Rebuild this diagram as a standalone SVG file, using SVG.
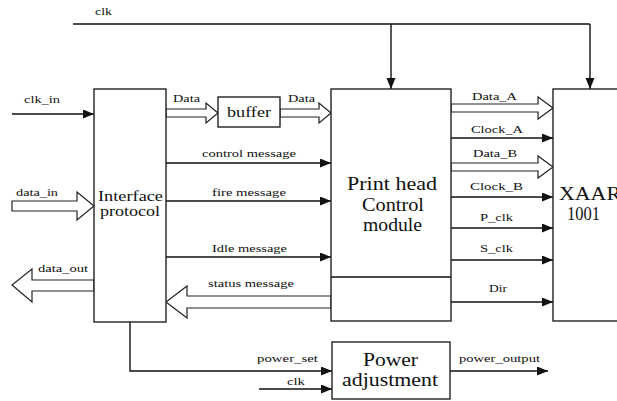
<svg xmlns="http://www.w3.org/2000/svg" width="617" height="401" viewBox="0 0 617 401">
<style>
.box{fill:#fff;stroke:#222;stroke-width:1.4}
.ln{fill:none;stroke:#111;stroke-width:1.4}
.ha{fill:#fff;stroke:#222;stroke-width:1.2;stroke-linejoin:miter}
text{font-family:"Liberation Serif","Times New Roman",serif;fill:#111}
.s{font-size:11px}
.m{font-size:15px}
.b{font-size:18px}
</style>
<defs>
<marker id="ah" markerUnits="userSpaceOnUse" markerWidth="12" markerHeight="10" refX="11" refY="4.5" orient="auto">
<path d="M0,0 L11,4.5 L0,9 Z" fill="#111"/>
</marker>
</defs>
<g id="connectors">
<path class="ln" d="M73,24 H590"/>
<path class="ln" d="M391,24 V89" marker-end="url(#ah)"/>
<path class="ln" d="M590,24 V89" marker-end="url(#ah)"/>
<path class="ln" d="M12,114 H94" marker-end="url(#ah)"/>
<path class="ln" d="M166,163 H331" marker-end="url(#ah)"/>
<path class="ln" d="M166,201 H331" marker-end="url(#ah)"/>
<path class="ln" d="M166,257 H331" marker-end="url(#ah)"/>
<path class="ln" d="M451,138 H553" marker-end="url(#ah)"/>
<path class="ln" d="M451,197 H553" marker-end="url(#ah)"/>
<path class="ln" d="M451,228 H553" marker-end="url(#ah)"/>
<path class="ln" d="M451,260 H553" marker-end="url(#ah)"/>
<path class="ln" d="M451,302 H553" marker-end="url(#ah)"/>
<path class="ln" d="M130,322 V371 H332" marker-end="url(#ah)"/>
<path class="ln" d="M259,389 H332" marker-end="url(#ah)"/>
<path class="ln" d="M450,371 H548" marker-end="url(#ah)"/>
<polygon class="ha" points="166,109 206,109 206,103 218,113 206,123 206,117 166,117"/>
<polygon class="ha" points="280,109 319,109 319,103 331,113 319,123 319,117 280,117"/>
<polygon class="ha" points="451,104 538,104 538,97 553,108 538,119 538,112 451,112"/>
<polygon class="ha" points="451,163 538,163 538,156 553,167 538,178 538,171 451,171"/>
<polygon class="ha" points="331,296 187,296 187,286 166,302 187,318 187,308 331,308"/>
<polygon class="ha" points="12,201 77,201 77,192 94,206 77,220 77,211 12,211"/>
<polygon class="ha" points="94,280 32,280 32,269 12,285 32,302 32,291 94,291"/>
<text class="s" x="95" y="15" textLength="17" lengthAdjust="spacingAndGlyphs">clk</text>
<text class="s" x="24" y="103" textLength="36" lengthAdjust="spacingAndGlyphs">clk_in</text>
<text class="s" x="173" y="102" textLength="27" lengthAdjust="spacingAndGlyphs">Data</text>
<text class="s" x="288" y="102" textLength="27" lengthAdjust="spacingAndGlyphs">Data</text>
<text class="s" x="472" y="100" textLength="45" lengthAdjust="spacingAndGlyphs">Data_A</text>
<text class="s" x="471" y="133" textLength="52" lengthAdjust="spacingAndGlyphs">Clock_A</text>
<text class="s" x="473" y="157" textLength="44" lengthAdjust="spacingAndGlyphs">Data_B</text>
<text class="s" x="470" y="190" textLength="53" lengthAdjust="spacingAndGlyphs">Clock_B</text>
<text class="s" x="480" y="221" textLength="33" lengthAdjust="spacingAndGlyphs">P_clk</text>
<text class="s" x="480" y="252" textLength="33" lengthAdjust="spacingAndGlyphs">S_clk</text>
<text class="s" x="489" y="292" textLength="18" lengthAdjust="spacingAndGlyphs">Dir</text>
<text class="s" x="202" y="157" textLength="94" lengthAdjust="spacingAndGlyphs">control message</text>
<text class="s" x="212" y="196" textLength="74" lengthAdjust="spacingAndGlyphs">fire message</text>
<text class="s" x="212" y="252" textLength="75" lengthAdjust="spacingAndGlyphs">Idle message</text>
<text class="s" x="208" y="287" textLength="86" lengthAdjust="spacingAndGlyphs">status message</text>
<text class="s" x="16" y="196" textLength="42" lengthAdjust="spacingAndGlyphs">data_in</text>
<text class="s" x="38" y="272" textLength="50" lengthAdjust="spacingAndGlyphs">data_out</text>
<text class="s" x="257" y="362" textLength="61" lengthAdjust="spacingAndGlyphs">power_set</text>
<text class="s" x="287" y="385" textLength="18" lengthAdjust="spacingAndGlyphs">clk</text>
<text class="s" x="459" y="362" textLength="81" lengthAdjust="spacingAndGlyphs">power_output</text>
</g>
<g id="interface">
<rect class="box" x="94" y="89" width="72" height="233"/>
<text class="m" x="98" y="201" textLength="65" lengthAdjust="spacingAndGlyphs">Interface</text>
<text class="m" x="100" y="216" textLength="60" lengthAdjust="spacingAndGlyphs">protocol</text>
</g>
<g id="buffer">
<rect class="box" x="218" y="97" width="62" height="30"/>
<text class="m" x="227" y="117" textLength="44" lengthAdjust="spacingAndGlyphs">buffer</text>
</g>
<g id="printhead">
<rect class="box" x="331" y="89" width="120" height="232"/>
<path class="ln" d="M331,277 H451"/>
<text class="b" x="347" y="190" textLength="90" lengthAdjust="spacingAndGlyphs">Print head</text>
<text class="b" x="362" y="211" textLength="62" lengthAdjust="spacingAndGlyphs">Control</text>
<text class="b" x="363" y="231" textLength="59" lengthAdjust="spacingAndGlyphs">module</text>
</g>
<g id="xaar">
<rect class="box" x="553" y="89" width="80" height="232"/>
<text class="b" x="559" y="200" textLength="62" lengthAdjust="spacingAndGlyphs">XAAR</text>
<text class="b" x="567" y="220" textLength="33" lengthAdjust="spacingAndGlyphs">1001</text>
</g>
<g id="power">
<rect class="box" x="332" y="342" width="118" height="57"/>
<text class="b" x="363" y="366" textLength="55" lengthAdjust="spacingAndGlyphs">Power</text>
<text class="b" x="342" y="386" textLength="96" lengthAdjust="spacingAndGlyphs">adjustment</text>
</g>
</svg>
